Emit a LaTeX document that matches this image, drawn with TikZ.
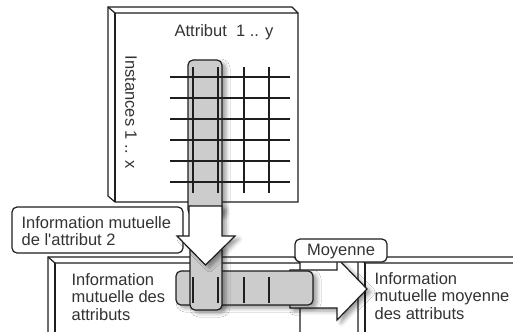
\documentclass[tikz,border=0pt]{standalone}
\usepackage{fontspec}
\setmainfont{Liberation Sans}[Ligatures=TeXOff]
\usetikzlibrary{shadows.blur}
\definecolor{ln}{HTML}{1E1E1E}
\definecolor{txt}{HTML}{333333}
\definecolor{gfill}{HTML}{CCCCCC}
\begin{document}
\begin{tikzpicture}[x=1bp,y=-1bp,line width=1.2bp,line join=miter,
  face/.style={draw=ln,fill=white},
  edge/.style={draw=ln},
  grayband/.style={draw=ln,fill=gfill,rounded corners=5bp,
    blur shadow={shadow xshift=4bp,shadow yshift=-3bp,shadow blur radius=4bp,shadow opacity=40}},
  whitearrow/.style={draw=ln,fill=white,
    blur shadow={shadow xshift=4bp,shadow yshift=-3bp,shadow blur radius=4bp,shadow opacity=40}},
  gridline/.style={draw=ln,line width=1.1bp},
  callout/.style={draw=ln,fill=white,rounded corners=5bp},
  lbl/.style={font=\fontsize{16.5bp}{17.5bp}\selectfont,text=txt,inner sep=0pt}]
\useasboundingbox (0,0) rectangle (513,331);
\clip (0,0) rectangle (513,331);
% top cube
\path[face] (108,7) -- (292,7) -- (298,13) -- (298,202) -- (115,202) -- (108,196) -- cycle;
\draw[edge] (108,7) -- (115,13) -- (298,13);
\draw[edge] (115,13) -- (115,202);
% gray column (top)
\path[grayband] (188,60) rectangle (222,215);
% grid
\foreach \yy in {77,98,119,140,161,182} \draw[gridline] (170,\yy) -- (290,\yy);
\foreach \xx in {193,218,244,269} \draw[gridline] (\xx,67) -- (\xx,193);
\node[lbl,anchor=base west] (attr) at (174,36) {Attribut\ \ 1 .. y};
\node[lbl,rotate=-90] (inst) at (131,112) {Instances 1 .. x};
% callout
\path[callout] (12,207) rectangle (183,253);
\node[lbl,anchor=base west] (ima) at (21,228) {\begin{tabular}[t]{@{}l@{}}Information mutuelle\\de l'attribut 2\end{tabular}};
% bottom cubes
\path[face] (48,257) -- (294,257) -- (300,263) -- (300,345) -- (55,345) -- (48,339) -- cycle;
\draw[edge] (48,257) -- (55,263) -- (300,263);
\draw[edge] (55,263) -- (55,345);
\path[face] (358,257) -- (525,257) -- (525,345) -- (365,345) -- (358,339) -- cycle;
\draw[edge] (358,257) -- (365,263) -- (525,263);
\draw[edge] (365,263) -- (365,345);
\node[lbl,anchor=base west] (imd) at (71,285) {\begin{tabular}[t]{@{}l@{}}Information\\mutuelle des\\attributs\end{tabular}};
\node[lbl,anchor=base west] (imm) at (374,284) {\begin{tabular}[t]{@{}l@{}}Information\\mutuelle moyenne\\des attributs\end{tabular}};
% right arrow
\path[whitearrow] (290,270) -- (337,270) -- (337,258) -- (367,289) -- (337,320) -- (337,308) -- (290,308) -- cycle;
% horizontal band
\path[grayband] (176,271) rectangle (313,305);
% bottom column
\path[grayband] (190,245) rectangle (222,310);
\foreach \xx in {193,218,244,269} \draw[gridline] (\xx,277) -- (\xx,303);
% down arrow
\path[whitearrow] (189,206) -- (222,206) -- (222,236) -- (235,236) -- (205.5,265) -- (177,236) -- (189,236) -- cycle;
% Moyenne
\path[callout] (295,239) rectangle (387,262);
\node[lbl,anchor=base] (moy) at (341,255) {Moyenne};
\end{tikzpicture}
\end{document}
